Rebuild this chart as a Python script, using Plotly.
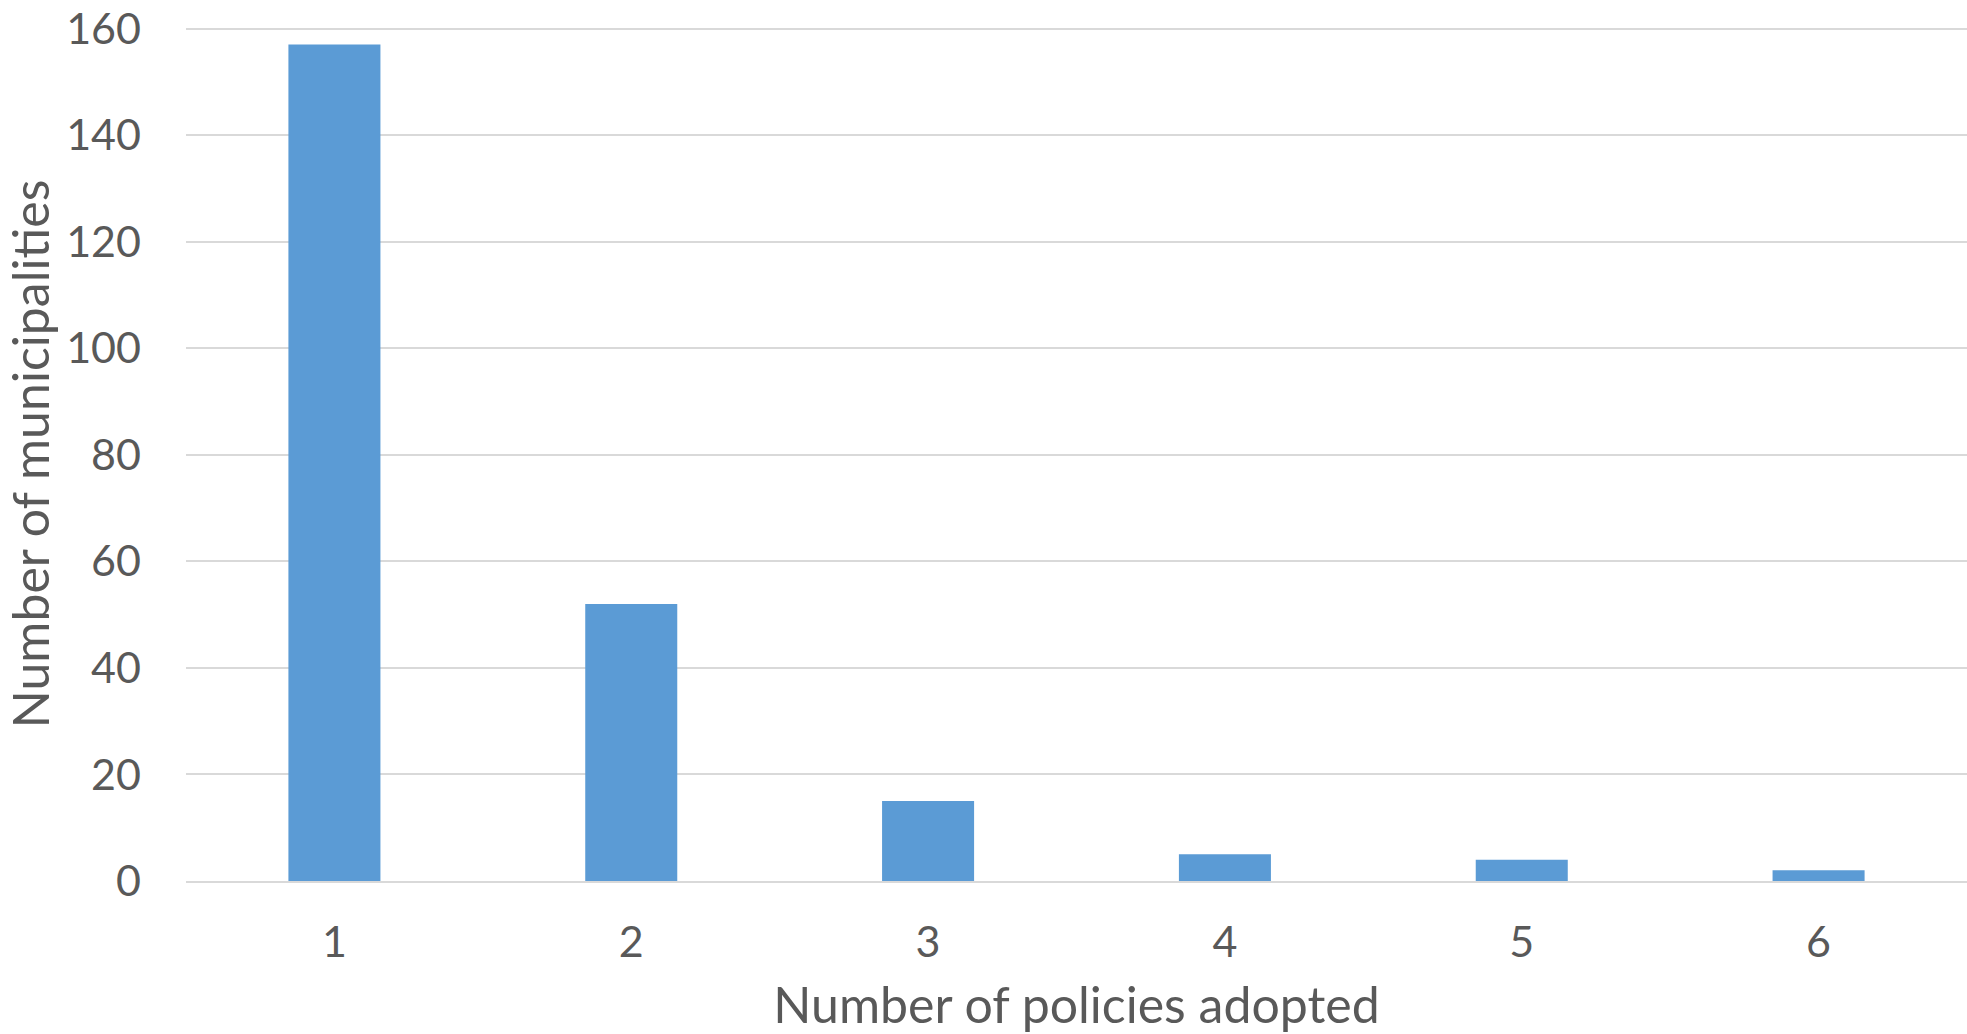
import plotly.graph_objects as go

categories = ["1", "2", "3", "4", "5", "6"]
municipalities = [157, 52, 15, 5, 4, 2]
y_ticks = [0, 20, 40, 60, 80, 100, 120, 140, 160]

FONT = "Lato"
TXT = "#595959"

fig = go.Figure(go.Bar(
    x=categories, y=municipalities,
    marker=dict(color="#5b9bd5", line=dict(width=0)),
))

fig.update_layout(
    width=1967, height=1034,
    margin=dict(l=186, r=0, t=27, b=153),
    paper_bgcolor="white", plot_bgcolor="white",
    bargap=0.69,
    showlegend=False,
    font=dict(family=FONT, color=TXT, size=43),
)
fig.update_xaxes(
    type="category",
    showgrid=False, zeroline=False,
    showline=True, linecolor="#d9d9d9", linewidth=2,
    ticks="", ticklabelstandoff=22,
    tickfont=dict(size=43, color=TXT, family=FONT),
    title=dict(text="Number of policies adopted", font=dict(size=50, color=TXT, family=FONT), standoff=24),
    automargin=False,
)
fig.update_yaxes(
    range=[0, 160.3],
    tickvals=y_ticks,
    showgrid=True, gridcolor="#d9d9d9", gridwidth=2,
    zeroline=False, showline=False, ticks="",
    ticklabelstandoff=44,
    ticklabeloverflow="allow",
    tickfont=dict(size=43, color=TXT, family=FONT),
    title=dict(text="Number of municipalities", font=dict(size=50, color=TXT, family=FONT), standoff=14),
    automargin=False,
)

fig.write_html("out.html")
